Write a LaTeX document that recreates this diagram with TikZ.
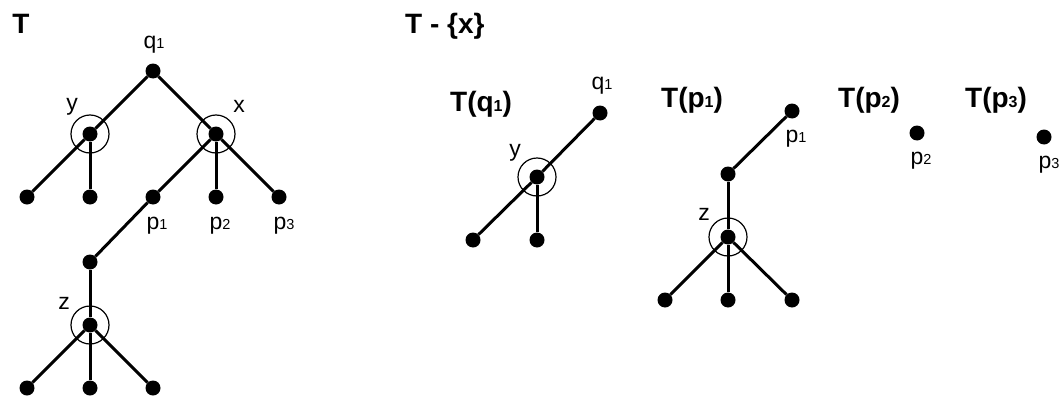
\documentclass[tikz,border=0pt]{standalone}
\usepackage{fontspec}
\setmainfont{Liberation Sans}
\newcommand{\lbl}[2]{{\fontsize{23}{26}\selectfont #1{\fontsize{14.5}{15}\selectfont #2}}}
\newcommand{\ttl}[1]{{\fontsize{28}{30}\selectfont\bfseries #1}}
\newcommand{\ttlsub}[2]{{\fontsize{28}{30}\selectfont\bfseries T(#1{\fontsize{16}{16}\selectfont #2})}}
\tikzset{
  dot/.style={circle, fill=black, inner sep=0pt, minimum size=15pt},
  ring/.style={circle, draw=black, line width=1.2pt, inner sep=0pt, minimum size=38pt},
  edge/.style={line width=3pt},
  lab/.style={inner sep=0pt},
}
\begin{document}
\begin{tikzpicture}[x=1pt,y=-1pt]
\useasboundingbox (0,0) rectangle (1064,396);
% ---------- left tree T ----------
\node[lab] (tT) at (21,24) {\ttl{T}};
\node[dot] (q1) at (153,71) {};
\node[dot] (y) at (90,134) {};
\node[dot] (x) at (216,134) {};
\node[dot] (ya) at (27,197) {};
\node[dot] (yb) at (90,197) {};
\node[dot] (p1) at (153,197) {};
\node[dot] (p2) at (216,197) {};
\node[dot] (p3) at (279,197) {};
\node[dot] (w) at (90,262) {};
\node[dot] (z) at (90,325) {};
\node[dot] (za) at (27,388) {};
\node[dot] (zb) at (90,388) {};
\node[dot] (zc) at (153,388) {};
\node[ring] (yr) at (y) {};
\node[ring] (xr) at (x) {};
\node[ring] (zr) at (z) {};
\draw[edge] (q1) -- (y);
\draw[edge] (q1) -- (x);
\draw[edge] (y) -- (ya);
\draw[edge] (y) -- (yb);
\draw[edge] (x) -- (p1);
\draw[edge] (x) -- (p2);
\draw[edge] (x) -- (p3);
\draw[edge] (p1) -- (w);
\draw[edge] (w) -- (z);
\draw[edge] (z) -- (za);
\draw[edge] (z) -- (zb);
\draw[edge] (z) -- (zc);
\node[lab] (lq1) at (154,45) {\lbl{q}{1}};
\node[lab] (ly) at (72,107) {\lbl{y}{}};
\node[lab] (lx) at (239,106) {\lbl{x}{}};
\node[lab] (lp1) at (157,226) {\lbl{p}{1}};
\node[lab] (lp2) at (220,226) {\lbl{p}{2}};
\node[lab] (lp3) at (284,226) {\lbl{p}{3}};
\node[lab] (lz) at (64,303) {\lbl{z}{}};
% ---------- right: T - {x} ----------
\node[lab, anchor=west] (tTx) at (405,26) {\ttl{T - \{x\}}};
% T(q1)
\node[lab, anchor=west] (tq1) at (450,104) {\ttlsub{q}{1}};
\node[dot] (rq1) at (600,113) {};
\node[dot] (ry) at (537,177) {};
\node[dot] (rya) at (473,240) {};
\node[dot] (ryb) at (537,240) {};
\node[ring] (ryr) at (ry) {};
\draw[edge] (rq1) -- (ry);
\draw[edge] (ry) -- (rya);
\draw[edge] (ry) -- (ryb);
\node[lab] (lrq1) at (602,86) {\lbl{q}{1}};
\node[lab] (lry) at (515,153) {\lbl{y}{}};
% T(p1)
\node[lab, anchor=west] (tp1) at (661,100) {\ttlsub{p}{1}};
\node[dot] (rp1) at (792,111) {};
\node[dot] (rw) at (728,174) {};
\node[dot] (rz) at (728,237) {};
\node[dot] (rza) at (665,300) {};
\node[dot] (rzb) at (728,300) {};
\node[dot] (rzc) at (792,300) {};
\node[ring] (rzr) at (rz) {};
\draw[edge] (rp1) -- (rw);
\draw[edge] (rw) -- (rz);
\draw[edge] (rz) -- (rza);
\draw[edge] (rz) -- (rzb);
\draw[edge] (rz) -- (rzc);
\node[lab] (lrp1) at (796,139) {\lbl{p}{1}};
\node[lab] (lrz) at (704,214) {\lbl{z}{}};
% T(p2)
\node[lab, anchor=west] (tp2) at (838,100) {\ttlsub{p}{2}};
\node[dot] (rp2) at (917,133) {};
\node[lab] (lrp2) at (921,161) {\lbl{p}{2}};
% T(p3)
\node[lab, anchor=west] (tp3) at (965,100) {\ttlsub{p}{3}};
\node[dot] (rp3) at (1044,137) {};
\node[lab] (lrp3) at (1049,165) {\lbl{p}{3}};
\end{tikzpicture}
\end{document}
